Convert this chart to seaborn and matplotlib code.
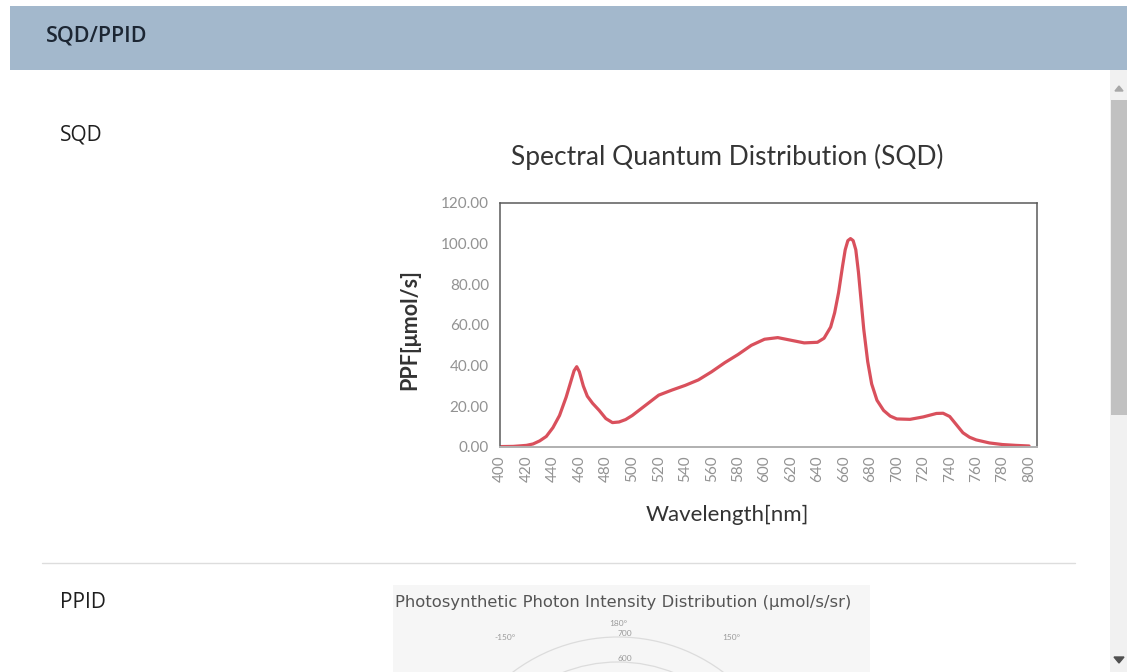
import numpy as np
import matplotlib
matplotlib.use("Agg")
import matplotlib.pyplot as plt
import seaborn as sns
from matplotlib.patches import Rectangle, Polygon

# spectrum (nm, PPF umol/s)
wavelength = [400, 410, 420, 425, 430, 435, 440, 445, 450, 453, 456, 458, 460, 463, 466, 470,
              475, 480, 485, 490, 495, 500, 510, 520, 530, 540, 550, 560, 570, 580, 590,
              600, 610, 620, 630, 640, 645, 650, 653, 656, 659, 661, 663, 665, 667, 669,
              671, 673, 675, 678, 681, 685, 690, 695, 700, 710, 720, 730, 735, 740, 745,
              750, 755, 760, 770, 780, 790, 800]
ppf = [0.2, 0.3, 0.8, 1.5, 3.0, 5.2, 9.5, 15.5, 24.5, 31.0, 37.5, 39.5, 37.0, 30.0, 25.0, 21.5,
       18.0, 14.0, 12.0, 12.3, 13.5, 15.5, 20.5, 25.5, 28.0, 30.3, 33.0, 37.0, 41.5, 45.5, 50.0,
       53.0, 53.8, 52.5, 51.2, 51.5, 53.5, 59.0, 66.0, 76.0, 89.0, 97.0, 101.5, 102.5, 101.5, 97.0,
       86.0, 72.0, 58.0, 42.0, 31.0, 23.0, 18.0, 15.2, 13.8, 13.6, 14.8, 16.5, 16.6, 15.0, 11.0,
       7.0, 4.8, 3.5, 2.0, 1.2, 0.8, 0.5]
x_ticks = list(range(400, 801, 20))
y_ticks = [0, 20, 40, 60, 80, 100, 120]

# polar preview (PPID): only its top edge is on screen
polar_angles = [147, 180, 213]
polar_labels = ["150°", "180°", "-150°"]
polar_label_r = [830, 756, 830]
polar_rings = [100, 200, 300, 400, 500, 600, 700]
ring_labels = ["", "", "", "", "", "600", "700"]

W, H = 1127, 672
sns.set_theme(style="white")
plt.rcParams["font.family"] = ["Lato", "DejaVu Sans"]
page_font = ["Open Sans", "DejaVu Sans"]

fig = plt.figure(figsize=(W / 100, H / 100), dpi=100)
fig.patch.set_facecolor("white")


def fx(x):
    return x / W


def fy(y):
    return 1 - y / H


def rect(x0, y0, x1, y1, color, z=-1):
    fig.patches.append(Rectangle((fx(x0), fy(y1)), fx(x1) - fx(x0), fy(y0) - fy(y1),
                                 transform=fig.transFigure, facecolor=color,
                                 edgecolor="none", zorder=z))


# page chrome
rect(10, 6, W, 70, "#a3b8cc")
fig.text(fx(46), fy(36), "SQD/PPID", fontsize=15.5, color="#1c2633", family=page_font,
         fontweight="semibold", va="center")
fig.text(fx(60), fy(135), "SQD", fontsize=15, color="#1e1e1e", family=page_font, va="center")
fig.text(fx(60), fy(602), "PPID", fontsize=15, color="#1e1e1e", family=page_font, va="center")
fig.lines.append(plt.Line2D([fx(42), fx(1075)], [fy(563), fy(563)], transform=fig.transFigure,
                            color="#dddddd", lw=1))
# scrollbar
rect(1110, 70, W, H, "#f1f1f1")
rect(1111, 100, W, 415, "#c1c1c1", z=-0.5)
fig.patches.append(Polygon([(fx(1115), fy(91)), (fx(1123), fy(91)), (fx(1119), fy(86))],
                           transform=fig.transFigure, color="#a8a8a8"))
fig.patches.append(Polygon([(fx(1114), fy(657)), (fx(1124), fy(657)), (fx(1119), fy(663))],
                           transform=fig.transFigure, color="#505050"))

# SQD chart
fig.text(fx(727), fy(157), "Spectral Quantum Distribution (SQD)", fontsize=19,
         color="#353535", ha="center", va="center")

ax = fig.add_axes([fx(500), fy(447), fx(1037) - fx(500), fy(203) - fy(447)])
sns.lineplot(x=wavelength, y=ppf, ax=ax, color="#d9505c", linewidth=2.3)
ax.set_xlim(400, 806)
ax.set_ylim(0, 120)
ax.set_xticks(x_ticks)
ax.set_xticklabels([str(v) for v in x_ticks], rotation=90)
ax.set_yticks(y_ticks)
ax.set_yticklabels([f"{v:.2f}" for v in y_ticks])
ax.tick_params(axis="both", length=0, labelsize=11, labelcolor="#929292")
ax.tick_params(axis="x", pad=6)
ax.tick_params(axis="y", pad=8)
for side in ["top", "right", "left"]:
    ax.spines[side].set_color("#5a5a5a")
    ax.spines[side].set_linewidth(1.1)
ax.spines["bottom"].set_color("#b0b0b0")
ax.spines["bottom"].set_linewidth(1.4)
ax.set_xlabel("Wavelength[nm]", fontsize=16, color="#333333")
ax.set_ylabel("PPF[μmol/s]", fontsize=15.5, color="#333333", fontweight="bold")
ax.xaxis.set_label_coords((727 - 500) / 537, (447 - 515) / 244)
ax.xaxis.label.set_va("center")
ax.yaxis.set_label_coords((410 - 500) / 537, (447 - 330) / 244)
ax.yaxis.label.set_va("center")

# PPID preview image
rect(393, 585, 870, H, "#f6f6f6")
fig.text(fx(395), fy(603), "Photosynthetic Photon Intensity Distribution (μmol/s/sr)",
         fontsize=11.8, color="#555555", va="center", family=["DejaVu Sans"])
r_px = 180
pax = fig.add_axes([fx(618 - r_px), fy(812 + r_px), fx(2 * r_px), (2 * r_px) / H],
                   projection="polar")
pax.set_facecolor("none")
pax.set_theta_zero_location("S")
pax.set_theta_direction(1)
pax.set_ylim(0, 720)
pax.set_xticks([])
pax.set_rgrids(polar_rings, ring_labels, angle=180, fontsize=6, color="#9a9a9a")
pax.grid(color="#dcdcdc", linewidth=0.9)
pax.spines["polar"].set_visible(False)
for ang, lab, rr in zip(polar_angles, polar_labels, polar_label_r):
    pax.text(np.deg2rad(ang), rr, lab, fontsize=6, color="#9a9a9a",
             ha="center", va="center", clip_on=False)

fig.savefig("out.png", dpi=100)
